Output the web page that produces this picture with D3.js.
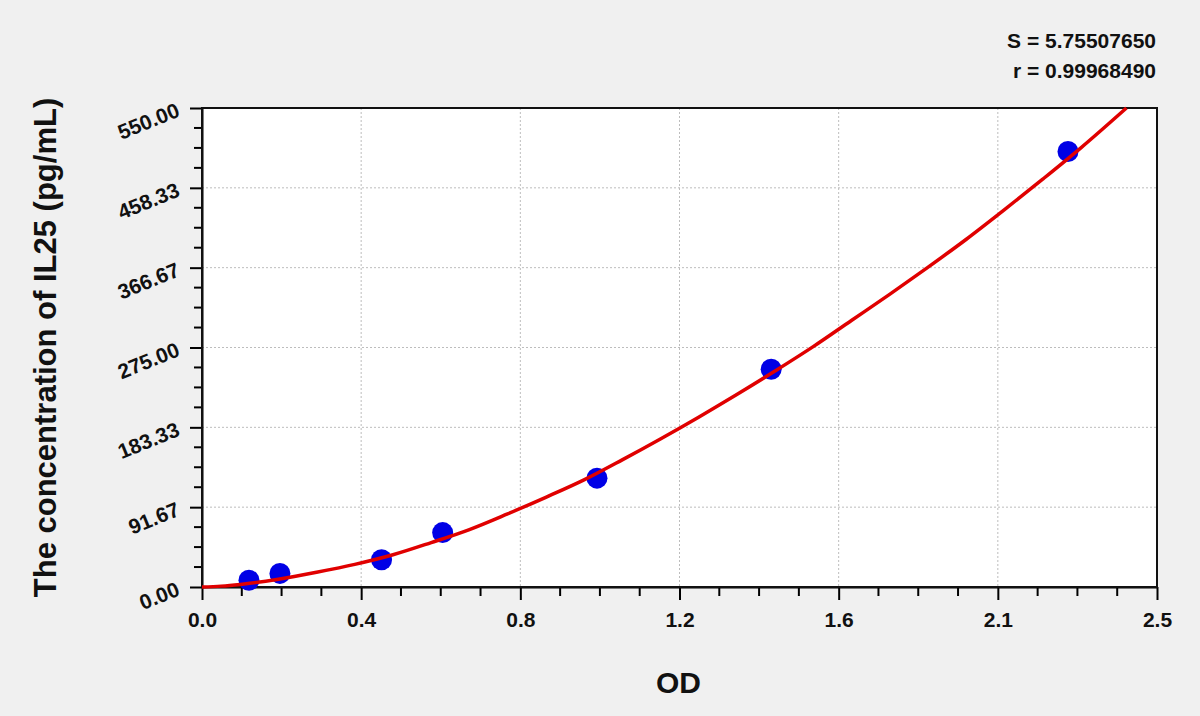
<!DOCTYPE html>
<html><head><meta charset="utf-8">
<script src="https://cdn.jsdelivr.net/npm/d3@7"></script>
<style>
html,body{margin:0;padding:0;background:#f0f0f0;}
svg{display:block;font-family:"Liberation Sans",Arial,sans-serif;}
</style></head>
<body>
<svg id="c" width="1200" height="716"></svg>
<script>
// Standard points (OD, concentration pg/mL)
const pointOD = [0.123, 0.204, 0.470, 0.630, 1.034, 1.490, 2.267];
const pointConc = [7.8, 15.6, 31.25, 62.5, 125, 250, 500];
// Fitted curve
const curveOD = [0, 0.05, 0.1, 0.2, 0.3, 0.4, 0.5, 0.6, 0.7, 0.8, 0.9, 1.0, 1.1, 1.2, 1.3, 1.4, 1.5, 1.6, 1.7, 1.8, 1.9, 2.0, 2.1, 2.2, 2.3, 2.42];
const curveConc = [0, 1, 3, 9, 17, 26, 37, 51, 66, 84, 103, 123, 146, 170, 195, 221, 248, 276, 306, 336, 367, 399, 433, 468, 504, 550];
const xTickVals = [0, 2.5/6, 5/6, 1.25, 10/6, 12.5/6, 2.5];
const xTickLabels = ["0.0", "0.4", "0.8", "1.2", "1.6", "2.1", "2.5"];
const yTickVals = [0, 550/6, 1100/6, 275, 2200/6, 2750/6, 550];
const yTickLabels = ["0.00", "91.67", "183.33", "275.00", "366.67", "458.33", "550.00"];
const statsLines = ["S = 5.75507650", "r = 0.99968490"];

const svg = d3.select("#c");
const L = 202, R = 1157, T = 108, B = 587;
const x = d3.scaleLinear().domain([0, 2.5]).range([L, R]);
const y = d3.scaleLinear().domain([0, 550]).range([B, T]);
const FONT = "Liberation Sans, Arial, sans-serif";

svg.append("rect").attr("x", L).attr("y", T).attr("width", R - L).attr("height", B - T).attr("fill", "#fff");

// grid
const g = svg.append("g");
g.selectAll(".vg").data(xTickVals.slice(1, -1)).join("line")
  .attr("x1", d => x(d)).attr("x2", d => x(d)).attr("y1", T).attr("y2", B)
  .attr("stroke", "#bdbdbd").attr("stroke-width", 1).attr("stroke-dasharray", "2,2");
g.selectAll(".hg").data(yTickVals.slice(1, -1)).join("line")
  .attr("y1", d => y(d)).attr("y2", d => y(d)).attr("x1", L).attr("x2", R)
  .attr("stroke", "#bdbdbd").attr("stroke-width", 1).attr("stroke-dasharray", "2,2");

// minor ticks
const xMinor = d3.range(0, 25).map(i => i * 2.5 / 24).filter((d, i) => i % 4 !== 0);
const yMinor = d3.range(0, 25).map(i => i * 550 / 24).filter((d, i) => i % 4 !== 0);

const xAxis = d3.axisBottom(x).tickValues(xTickVals).tickFormat((d, i) => xTickLabels[i]).tickSize(13).tickSizeOuter(0).tickPadding(12);
const xa = svg.append("g").attr("transform", `translate(0,${B})`).call(xAxis);
xa.select(".domain").attr("stroke", "#000").attr("stroke-width", 2);
xa.selectAll(".tick line").attr("stroke", "#000").attr("stroke-width", 2);
xa.selectAll("text").attr("font-size", 21).attr("font-weight", "bold").attr("fill", "#111").attr("font-family", FONT);
svg.append("g").selectAll("line").data(xMinor).join("line")
  .attr("x1", d => x(d)).attr("x2", d => x(d)).attr("y1", B).attr("y2", B + 9)
  .attr("stroke", "#000").attr("stroke-width", 2);

const yAxis = d3.axisLeft(y).tickValues(yTickVals).tickFormat((d, i) => yTickLabels[i]).tickSize(12).tickSizeOuter(0).tickPadding(6);
const ya = svg.append("g").attr("transform", `translate(${L},0)`).call(yAxis);
ya.select(".domain").attr("stroke", "#000").attr("stroke-width", 2);
ya.selectAll(".tick line").attr("stroke", "#000").attr("stroke-width", 2);
ya.selectAll("text").attr("font-size", 21).attr("font-weight", "bold").attr("fill", "#111")
  .attr("font-family", FONT)
  .attr("x", -24).attr("dy", "0.38em").attr("transform", "rotate(-22,-24,0)");
svg.append("g").selectAll("line").data(yMinor).join("line")
  .attr("y1", d => y(d)).attr("y2", d => y(d)).attr("x1", L).attr("x2", L - 8)
  .attr("stroke", "#000").attr("stroke-width", 2);

// frame
svg.append("rect").attr("x", L).attr("y", T).attr("width", R - L).attr("height", B - T)
  .attr("fill", "none").attr("stroke", "#111").attr("stroke-width", 2);

const curveData = curveOD.map((d, i) => [d, curveConc[i]]);
const lineGen = d3.line().x(d => x(d[0])).y(d => y(d[1])).curve(d3.curveMonotoneX);

// points
svg.append("g").selectAll("circle").data(pointOD.map((d, i) => [d, pointConc[i]])).join("circle")
  .attr("cx", d => x(d[0])).attr("cy", d => y(d[1])).attr("r", 10.5).attr("fill", "#0000e6");
// curve
svg.append("path").datum(curveData)
  .attr("d", lineGen)
  .attr("fill", "none").attr("stroke", "#e00000").attr("stroke-width", 3.5);

// titles
svg.append("text").attr("x", (L + R) / 2 - 1).attr("y", 693).attr("text-anchor", "middle")
  .attr("font-size", 30).attr("font-weight", "bold").attr("fill", "#111").text("OD");
svg.append("text").attr("transform", `translate(56,${(T + B) / 2}) rotate(-90)`).attr("text-anchor", "middle")
  .attr("font-size", 31).attr("font-weight", "bold").attr("fill", "#111").text("The concentration of IL25 (pg/mL)");

svg.append("g").selectAll("text").data(statsLines).join("text")
  .attr("x", 1156).attr("y", (d, i) => 48 + i * 30).attr("text-anchor", "end")
  .attr("font-size", 21).attr("font-weight", "bold").attr("fill", "#111").text(d => d);
</script>
</body></html>
